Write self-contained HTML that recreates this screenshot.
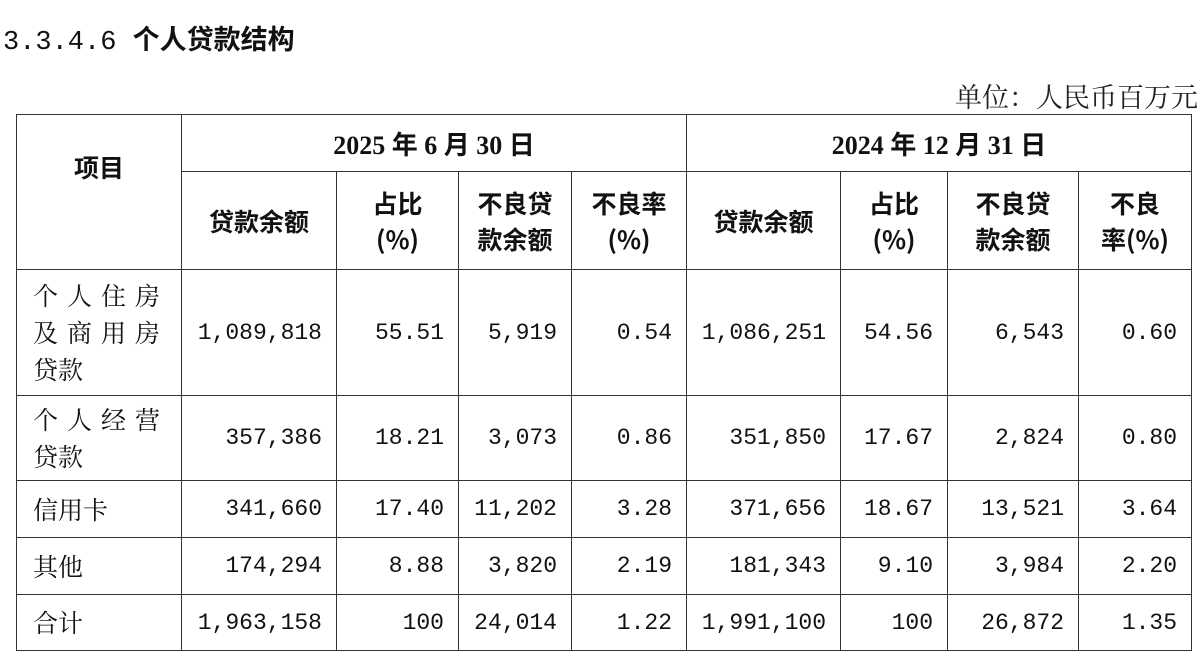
<!DOCTYPE html>
<html><head><meta charset="utf-8"><style>
body{margin:0;width:1198px;height:660px;background:#fff;position:relative;overflow:hidden;color:#111}
.t{position:absolute;left:3px;top:18px;font:27px "Liberation Mono","Noto Serif CJK SC",serif;white-space:nowrap}
.t b{font-family:"Noto Sans CJK SC",sans-serif}
.u{position:absolute;right:0;top:76px;font:27px "Noto Serif CJK SC",serif;white-space:nowrap;color:#222}
table{position:absolute;left:16px;top:114px;border-collapse:collapse;table-layout:fixed;width:1175px}
td{border:1.5px solid #333;padding:0;font:23px "Liberation Mono","Noto Serif CJK SC",serif;text-align:right;padding-right:14px;box-sizing:border-box;white-space:nowrap}
td.h{font:bold 25px "Noto Sans CJK SC",sans-serif;text-align:center;padding:0;line-height:36px}
td.d{font:bold 26px "Liberation Serif","Noto Sans CJK SC",serif}
td.l{text-align:left;padding-left:16px;font:25px "Noto Serif CJK SC",serif;line-height:37px}
.sp{letter-spacing:9px}
</style></head><body>
<div class="t">3.3.4.6 <b>个人贷款结构</b></div>
<div class="u">单位：人民币百万元</div>
<table>
<colgroup><col style="width:165px"><col style="width:155px"><col style="width:122px"><col style="width:113px"><col style="width:115px"><col style="width:154px"><col style="width:107px"><col style="width:131px"><col style="width:113px"></colgroup>
<tr style="height:57px"><td class="h" rowspan="2" style="padding-bottom:50px">项目</td><td class="h d" colspan="4">2025 年 6 月 30 日</td><td class="h d" colspan="4">2024 年 12 月 31 日</td></tr>
<tr style="height:98px"><td class="h">贷款余额</td><td class="h">占比<br>(%)</td><td class="h">不良贷<br>款余额</td><td class="h">不良率<br>(%)</td><td class="h">贷款余额</td><td class="h">占比<br>(%)</td><td class="h">不良贷<br>款余额</td><td class="h">不良<br>率(%)</td></tr>
<tr style="height:126px"><td class="l"><span class="sp">个人住房</span><br><span class="sp">及商用房</span><br>贷款</td><td>1,089,818</td><td>55.51</td><td>5,919</td><td>0.54</td><td>1,086,251</td><td>54.56</td><td>6,543</td><td>0.60</td></tr>
<tr style="height:85px"><td class="l"><span class="sp">个人经营</span><br>贷款</td><td>357,386</td><td>18.21</td><td>3,073</td><td>0.86</td><td>351,850</td><td>17.67</td><td>2,824</td><td>0.80</td></tr>
<tr style="height:57px"><td class="l">信用卡</td><td>341,660</td><td>17.40</td><td>11,202</td><td>3.28</td><td>371,656</td><td>18.67</td><td>13,521</td><td>3.64</td></tr>
<tr style="height:57px"><td class="l">其他</td><td>174,294</td><td>8.88</td><td>3,820</td><td>2.19</td><td>181,343</td><td>9.10</td><td>3,984</td><td>2.20</td></tr>
<tr style="height:56px"><td class="l">合计</td><td>1,963,158</td><td>100</td><td>24,014</td><td>1.22</td><td>1,991,100</td><td>100</td><td>26,872</td><td>1.35</td></tr>
</table>
</body></html>
